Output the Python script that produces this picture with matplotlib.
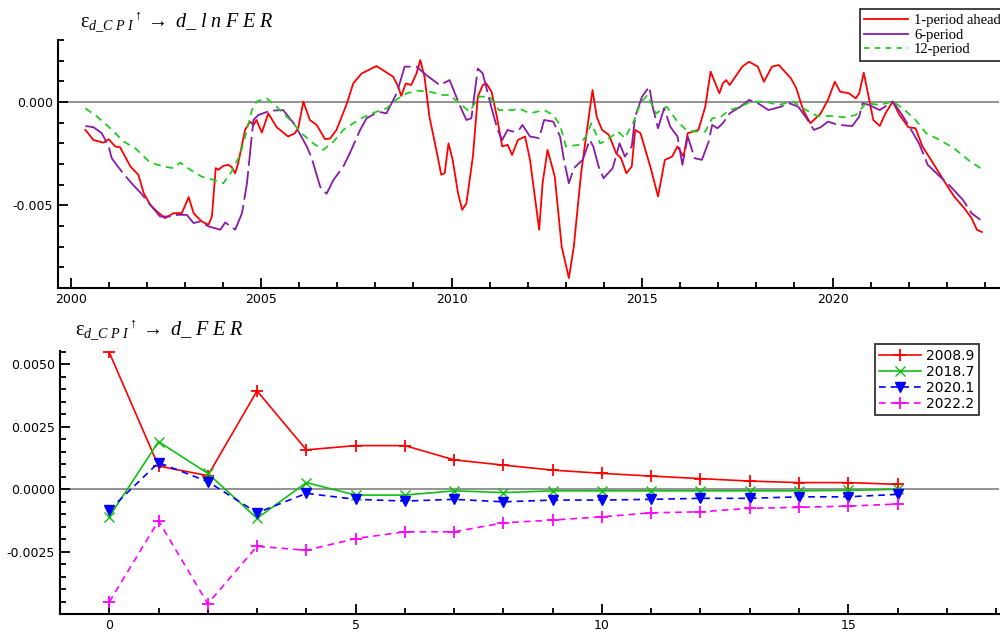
import numpy as np
import matplotlib
matplotlib.use("Agg")
import matplotlib.pyplot as plt
from matplotlib.ticker import MultipleLocator, FormatStrFormatter

plt.rcParams['font.family'] = ['DejaVu Sans']
plt.rcParams['mathtext.fontset'] = 'custom'
plt.rcParams['mathtext.it'] = 'Liberation Serif:italic'
plt.rcParams['mathtext.rm'] = 'Liberation Serif'

# --- top panel: time-varying responses (units of 1e-3) ---
t_1p = [2000.39, 2000.6, 2000.87, 2001.0, 2001.17, 2001.3, 2001.57, 2001.78, 2001.92, 2002.09,
        2002.27, 2002.48, 2002.7, 2002.92, 2003.1, 2003.23, 2003.44, 2003.62, 2003.71, 2003.81,
        2003.88, 2004.01, 2004.14, 2004.23, 2004.32, 2004.4, 2004.58, 2004.71, 2004.8, 2004.88,
        2005.02, 2005.19, 2005.41, 2005.71, 2005.89, 2005.98, 2006.11, 2006.28, 2006.46, 2006.68,
        2006.81, 2006.98, 2007.24, 2007.42, 2007.64, 2008.03, 2008.47, 2008.6, 2008.68, 2008.8,
        2008.94, 2009.08, 2009.18, 2009.29, 2009.42, 2009.6, 2009.73, 2009.82, 2009.92, 2010.03,
        2010.17, 2010.28, 2010.39, 2010.56, 2010.69, 2010.82, 2010.91, 2011.05, 2011.19, 2011.33,
        2011.47, 2011.59, 2011.74, 2011.93, 2012.06, 2012.3, 2012.39, 2012.52, 2012.71, 2012.89,
        2013.08, 2013.21, 2013.4, 2013.58, 2013.7, 2013.81, 2013.95, 2014.13, 2014.32, 2014.45,
        2014.59, 2014.73, 2014.82, 2014.96, 2015.24, 2015.42, 2015.6, 2015.79, 2015.93, 2016.09,
        2016.2, 2016.48, 2016.66, 2016.8, 2017.03, 2017.12, 2017.21, 2017.3, 2017.63, 2017.81,
        2018.04, 2018.2, 2018.41, 2018.59, 2018.91, 2019.05, 2019.23, 2019.42, 2019.69, 2019.88,
        2020.06, 2020.2, 2020.43, 2020.61, 2020.7, 2020.82, 2020.93, 2021.07, 2021.24, 2021.39,
        2021.58, 2021.76, 2021.99, 2022.18, 2022.36, 2022.64, 2022.91, 2023.19, 2023.46, 2023.65,
        2023.79, 2023.92]
v_1p = [-1.35, -1.84, -1.97, -1.8, -2.15, -2.19, -3.12, -3.52, -4.41, -4.97,
        -5.3, -5.62, -5.38, -5.38, -4.6, -5.38, -5.78, -5.94, -5.54, -3.2,
        -3.28, -3.09, -3.04, -3.15, -3.45, -2.96, -1.35, -0.95, -1.11, -0.87,
        -1.48, -0.55, -1.22, -1.67, -1.51, -1.22, 0.02, -0.87, -1.11, -1.8,
        -1.77, -1.35, -0.14, 0.9, 1.38, 1.74, 1.22, 0.74, 0.29, 0.9,
        0.82, 1.38, 2.03, 1.22, -0.71, -2.32, -3.52, -3.44, -2.0, -2.8,
        -4.41, -5.22, -4.9, -2.64, 0.26, 0.82, 0.9, 0.5, -0.71, -2.15,
        -2.07, -2.56, -1.84, -1.67, -2.8, -6.18, -3.93, -2.32, -3.61, -6.99,
        -8.52, -6.99, -3.45, -1.03, 0.58, -0.71, -1.35, -1.59, -2.48, -2.72,
        -3.45, -3.12, -1.35, -1.51, -3.28, -4.57, -2.8, -2.64, -2.15, -2.64,
        -1.51, -1.35, -0.23, 1.47, 0.42, 0.9, 1.06, 0.82, 1.71, 1.95,
        1.71, 0.98, 1.71, 1.79, 1.14, 0.66, -0.39, -1.03, -0.55, 0.1,
        0.98, 0.5, 0.42, 0.18, 0.42, 1.42, 0.42, -0.87, -1.16, -0.55,
        0.02, -0.63, -1.22, -1.27, -2.15, -2.96, -3.77, -4.57, -5.14, -5.62,
        -6.18, -6.29]

t_6p = [2000.39, 2000.6, 2000.82, 2001.0, 2001.08, 2001.34, 2001.6, 2001.86, 2002.09, 2002.35,
        2002.61, 2002.79, 2003.05, 2003.23, 2003.4, 2003.62, 2003.93, 2004.06, 2004.32, 2004.5,
        2004.63, 2004.71, 2004.8, 2004.93, 2005.24, 2005.58, 2005.89, 2006.2, 2006.33, 2006.55,
        2006.72, 2006.9, 2007.16, 2007.33, 2007.6, 2007.77, 2008.08, 2008.29, 2008.56, 2008.77,
        2009.08, 2009.34, 2009.69, 2009.95, 2010.21, 2010.39, 2010.52, 2010.69, 2010.82, 2011.04,
        2011.21, 2011.33, 2011.47, 2011.6, 2011.77, 2011.86, 2012.06, 2012.3, 2012.43, 2012.67,
        2012.85, 2012.95, 2013.08, 2013.21, 2013.44, 2013.63, 2013.72, 2013.86, 2013.99, 2014.23,
        2014.41, 2014.55, 2014.73, 2014.82, 2015.0, 2015.19, 2015.28, 2015.42, 2015.58, 2015.74,
        2015.93, 2016.06, 2016.2, 2016.38, 2016.57, 2016.75, 2016.84, 2016.98, 2017.12, 2017.3,
        2017.58, 2017.81, 2018.04, 2018.32, 2018.64, 2018.87, 2019.1, 2019.32, 2019.51, 2019.69,
        2019.88, 2020.15, 2020.52, 2020.7, 2020.79, 2020.96, 2021.24, 2021.58, 2021.8, 2021.99,
        2022.27, 2022.5, 2022.82, 2023.1, 2023.42, 2023.65, 2023.88]
v_6p = [-1.16, -1.22, -1.51, -2.15, -2.72, -3.36, -3.93, -4.44, -4.97, -5.54,
        -5.54, -5.46, -5.46, -5.86, -5.78, -6.02, -6.18, -5.83, -6.18, -5.38,
        -3.93, -2.48, -0.87, -0.63, -0.42, -0.39, -1.11, -2.15, -2.72, -4.09,
        -4.44, -3.77, -3.12, -2.48, -1.35, -0.79, -0.47, -0.55, 0.42, 1.71,
        1.71, 1.3, 0.82, 1.06, -0.14, -0.87, -0.79, 1.62, 1.38, -0.23,
        -1.35, -1.84, -1.35, -1.43, -1.35, -1.11, -1.67, -1.75, -0.87, -0.95,
        -1.67, -2.8, -3.93, -3.2, -2.8, -1.84, -2.15, -3.12, -3.69, -3.2,
        -2.0, -2.64, -2.15, -0.71, 0.26, 0.74, -0.23, -1.27, -0.3, -1.19,
        -1.67, -3.04, -1.67, -2.72, -2.8, -1.92, -1.11, -1.27, -1.03, -0.55,
        -0.23, 0.1, -0.06, -0.39, -0.23, -0.06, -0.23, -0.79, -1.35, -1.22,
        -0.95, -1.11, -1.16, -0.71, -0.06, -0.14, -0.39, 0.02, -0.55, -1.11,
        -2.0, -3.04, -3.61, -4.09, -4.73, -5.38, -5.7]

t_12p = [2000.39, 2000.7, 2001.04, 2001.4, 2001.7, 2002.09, 2002.44, 2002.7, 2002.88, 2003.14,
         2003.44, 2003.75, 2004.01, 2004.23, 2004.45, 2004.63, 2004.76, 2004.88, 2005.15, 2005.41,
         2005.76, 2006.11, 2006.37, 2006.63, 2006.9, 2007.16, 2007.42, 2007.68, 2008.03, 2008.29,
         2008.56, 2008.82, 2009.08, 2009.42, 2009.77, 2009.95, 2010.21, 2010.47, 2010.73, 2011.0,
         2011.24, 2011.6, 2011.77, 2012.06, 2012.43, 2012.67, 2012.85, 2013.0, 2013.35, 2013.53,
         2013.67, 2013.9, 2014.08, 2014.37, 2014.55, 2014.78, 2014.96, 2015.14, 2015.37, 2015.65,
         2015.93, 2016.16, 2016.38, 2016.66, 2016.84, 2017.07, 2017.3, 2017.58, 2017.86, 2018.22,
         2018.59, 2018.96, 2019.23, 2019.6, 2019.97, 2020.34, 2020.61, 2020.88, 2021.24, 2021.58,
         2021.85, 2022.18, 2022.46, 2022.82, 2023.19, 2023.56, 2023.88]
v_12p = [-0.31, -0.71, -1.27, -1.92, -2.24, -2.93, -3.12, -3.2, -2.93, -3.28,
         -3.61, -3.77, -3.93, -3.36, -2.56, -1.35, -0.39, 0.02, 0.18, -0.23,
         -0.87, -1.59, -2.0, -2.32, -1.92, -1.35, -1.03, -0.74, -0.47, -0.31,
         0.13, 0.42, 0.55, 0.5, 0.34, 0.34, -0.06, -0.47, 0.26, 0.26,
         -0.39, -0.39, -0.31, -0.55, -0.39, -0.63, -1.11, -2.15, -2.07, -1.67,
         -1.03, -2.0, -1.84, -1.43, -1.75, -0.95, -0.06, 0.34, -0.55, -0.23,
         -0.95, -1.35, -1.43, -1.43, -0.79, -0.71, -0.39, -0.23, 0.02, 0.02,
         -0.14, 0.02, -0.31, -0.68, -0.68, -0.74, -0.63, -0.06, -0.14, 0.02,
         -0.31, -0.87, -1.51, -1.84, -2.24, -2.8, -3.2]

# --- bottom panel: impulse responses at selected dates (units of 1e-3) ---
horizon = list(range(17))
irf_2008_9 = [5.48, 0.93, 0.55, 3.94, 1.58, 1.75, 1.75, 1.18, 0.97, 0.77,
              0.64, 0.53, 0.43, 0.33, 0.27, 0.27, 0.20]
irf_2018_7 = [-1.10, 1.91, 0.64, -1.16, 0.27, -0.23, -0.23, -0.06, -0.13, -0.06,
              -0.06, -0.06, -0.06, -0.06, -0.06, -0.04, 0.0]
irf_2020_1 = [-0.83, 1.07, 0.31, -0.94, -0.16, -0.40, -0.47, -0.40, -0.50, -0.43,
              -0.43, -0.40, -0.36, -0.36, -0.30, -0.30, -0.20]
irf_2022_2 = [-4.51, -1.26, -4.58, -2.28, -2.44, -1.97, -1.70, -1.70, -1.34, -1.23,
              -1.10, -0.94, -0.90, -0.76, -0.72, -0.67, -0.59]

scale = 1e-3

fig = plt.figure(figsize=(10, 6.32), dpi=100)
ax1 = fig.add_axes([0.058, 0.5443, 0.941, 0.3924])
ax2 = fig.add_axes([0.060, 0.0285, 0.939, 0.4166])

for ax in (ax1, ax2):
    for side in ('top', 'right'):
        ax.spines[side].set_visible(False)
    for side in ('left', 'bottom'):
        ax.spines[side].set_linewidth(1.5)
    ax.tick_params(which='both', direction='in', width=1.3, labelsize=9)
    ax.tick_params(which='major', length=7)
    ax.tick_params(which='minor', length=4)
    ax.axhline(0, color='#808080', lw=1.2, zorder=1)

# top panel
ax1.plot(t_1p, np.array(v_1p) * scale, color='#ff0000', lw=1.3)
ax1.plot(t_6p, np.array(v_6p) * scale, color='#8a1aa8', lw=1.3,
         linestyle=(0, (16, 3)))
ax1.plot(t_12p, np.array(v_12p) * scale, color='#22cc22', lw=1.3,
         linestyle=(0, (4, 3)))
ax1.set_xlim(1999.67, 2024.37)
ax1.set_ylim(-0.009, 0.003)
ax1.xaxis.set_major_locator(MultipleLocator(5))
ax1.xaxis.set_minor_locator(MultipleLocator(1))
ax1.yaxis.set_major_locator(MultipleLocator(0.005))
ax1.yaxis.set_minor_locator(MultipleLocator(0.001))
ax1.yaxis.set_major_formatter(FormatStrFormatter('%.3f'))

leg1_handles = [plt.Line2D([], [], color='#ff0000', lw=1.3),
                plt.Line2D([], [], color='#8a1aa8', lw=1.3),
                plt.Line2D([], [], color='#22cc22', lw=1.3, linestyle=(0, (3, 3)))]
leg1 = fig.legend(leg1_handles, ['1-period ahead', '6-period', '12-period'],
                  loc='upper left', bbox_to_anchor=(0.860, 0.985),
                  prop={'family': 'Liberation Serif', 'size': 10.5},
                  frameon=True, fancybox=False, handlelength=3.0,
                  borderpad=0.3, labelspacing=0.1, handletextpad=0.4,
                  borderaxespad=0)
leg1.get_frame().set_edgecolor('black')
leg1.get_frame().set_linewidth(1.3)

fig.text(0.080, 0.965,
         r'$\mathrm{\varepsilon}_{d\_C\ P\ I}{}^{\uparrow}\rightarrow\ d\_\ l\ n\ F\ E\ R$',
         fontsize=14.5, ha='left', va='center')

# bottom panel
ax2.plot(horizon, np.array(irf_2008_9) * scale, color='#ff0000', lw=1.2,
         marker='+', ms=8, mew=1.3, label='2008.9')
ax2.plot(horizon, np.array(irf_2018_7) * scale, color='#10c010', lw=1.2,
         marker='x', ms=7, mew=1.0, label='2018.7')
ax2.plot(horizon, np.array(irf_2020_1) * scale, color='#0000ff', lw=1.2,
         linestyle=(0, (4, 3)), marker='v', ms=6.5, label='2020.1')
ax2.plot(horizon, np.array(irf_2022_2) * scale, color='#ff00ff', lw=1.2,
         linestyle=(0, (4, 3)), marker='+', ms=8, mew=1.3, label='2022.2')
ax2.set_xlim(-1, 18.06)
ax2.set_ylim(-0.00499, 0.00555)
ax2.xaxis.set_major_locator(MultipleLocator(5))
ax2.xaxis.set_minor_locator(MultipleLocator(1))
ax2.yaxis.set_major_locator(MultipleLocator(0.0025))
ax2.yaxis.set_minor_locator(MultipleLocator(0.0005))
ax2.yaxis.set_major_formatter(FormatStrFormatter('%.4f'))

leg2 = ax2.legend(loc='upper left', bbox_to_anchor=(0.875, 0.455),
                  bbox_transform=fig.transFigure, prop={'size': 10},
                  frameon=True, fancybox=False, handlelength=3.0,
                  borderpad=0.3, labelspacing=0.15, handletextpad=0.4,
                  borderaxespad=0)
leg2.get_frame().set_edgecolor('black')
leg2.get_frame().set_linewidth(1.3)

fig.text(0.075, 0.478,
         r'$\mathrm{\varepsilon}_{d\_C\ P\ I}{}^{\uparrow}\rightarrow\ d\_\ F\ E\ R$',
         fontsize=14.5, ha='left', va='center')

fig.savefig('out.png', dpi=100)
